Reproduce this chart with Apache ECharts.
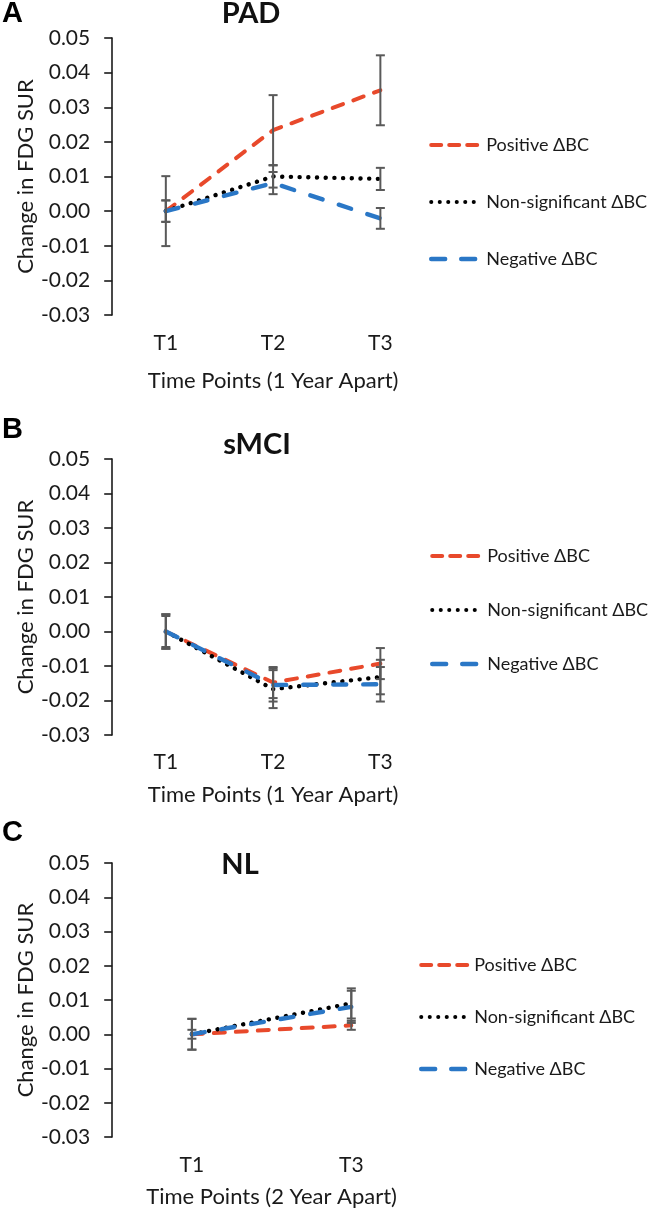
<!DOCTYPE html>
<html><head><meta charset="utf-8">
<script src="https://cdn.jsdelivr.net/npm/echarts@6/dist/echarts.min.js"></script>
<style>html,body{margin:0;padding:0;background:#fff}#c{width:656px;height:1213px}</style>
</head><body><div id="c"></div>
<script>
// ---- data ----
const seriesNames = ['Positive ΔBC', 'Non-significant ΔBC', 'Negative ΔBC'];
const yMin = -0.03, yMax = 0.05, yStep = 0.01;

const catsPAD = ['T1', 'T2', 'T3'];
const padPositive = [0, 0.0234, 0.0349];
const padPositiveErr = [0.0101, 0.0101, 0.0101];
const padNonSig = [0, 0.0100, 0.0093];
const padNonSigErr = [0.0031, 0.0032, 0.0032];
const padNegative = [0, 0.0081, -0.0021];
const padNegativeErr = [0.0031, 0.0032, 0.0030];

const catsSMCI = ['T1', 'T2', 'T3'];
const smciPositive = [0, -0.0148, -0.0093];
const smciPositiveErr = [0.0050, 0.0045, 0.0045];
const smciNonSig = [0, -0.0167, -0.0132];
const smciNonSigErr = [0.0045, 0.0055, 0.0050];
const smciNegative = [0, -0.0155, -0.0153];
const smciNegativeErr = [0.0050, 0.0048, 0.0050];

const catsNL = ['T1', 'T3'];
const nlPositive = [0, 0.0026];
const nlPositiveErr = [0.0013, 0.0013];
const nlNonSig = [0, 0.0090];
const nlNonSigErr = [0.0045, 0.0044];
const nlNegative = [0, 0.0080];
const nlNegativeErr = [0.0045, 0.0047];

const panelTitles = ['PAD', 'sMCI', 'NL'];
const panelLetters = ['A', 'B', 'C'];
const xTitles = ['Time Points (1 Year Apart)', 'Time Points (1 Year Apart)', 'Time Points (2 Year Apart)'];
const yTitle = 'Change in FDG SUR';

// ---- layout / style ----
const FONT = 'Lato, "Open Sans", sans-serif';
const TXT = '#1a1a1a';
const panels = [
  {cats: catsPAD, vals: [padPositive, padNonSig, padNegative], errs: [padPositiveErr, padNonSigErr, padNegativeErr],
   grid: {left: 95, top: 38, width: 339, height: 277}, labelMargin: 17.5, nameGap: 55,
   legend: {left: 429, top: 135, gap: 37, w: 50}, title: [251, 14], letter: [2, 14]},
  {cats: catsSMCI, vals: [smciPositive, smciNonSig, smciNegative], errs: [smciPositiveErr, smciNonSigErr, smciNegativeErr],
   grid: {left: 95, top: 459, width: 339, height: 276}, labelMargin: 16.5, nameGap: 49,
   legend: {left: 430, top: 546, gap: 34, w: 50}, title: [257, 445], letter: [2, 430]},
  {cats: catsNL, vals: [nlPositive, nlNonSig, nlNegative], errs: [nlPositiveErr, nlNonSigErr, nlNegativeErr],
   grid: {left: 93, top: 863, width: 338, height: 274}, labelMargin: 17.5, nameGap: 49,
   legend: {left: 419, top: 955, gap: 32, w: 48}, title: [240, 865], letter: [2, 833]}
];

const lineStyles = [
  {color: '#E8492B', width: 4, type: [11, 11], cap: 'round'},
  {color: '#000000', width: 4.4, type: [0.1, 8.6], cap: 'round'},
  {color: '#2A77C6', width: 4.4, type: [13, 17], cap: 'round'}
];
const legendLineStyles = [
  {color: '#E8492B', width: 4, type: [10, 8], cap: 'round'},
  {color: '#000000', width: 4, type: [0.1, 8.4], cap: 'round'},
  {color: '#2A77C6', width: 4.4, type: [14, 16], cap: 'round'}
];

function fmt(v) { return Math.abs(v) < 1e-9 ? '0.00' : v.toFixed(2); }

const grids = [], xAxes = [], yAxes = [], series = [], legends = [], graphics = [];
panels.forEach((p, k) => {
  grids.push(Object.assign({containLabel: false}, p.grid));
  xAxes.push({
    type: 'category', gridIndex: k, data: p.cats, boundaryGap: true,
    axisLine: {show: false, onZero: false}, axisTick: {show: false},
    axisLabel: {fontFamily: FONT, fontSize: 21, color: TXT, margin: p.labelMargin, lineHeight: 21},
    name: xTitles[k], nameLocation: 'middle', nameGap: p.nameGap,
    nameTextStyle: {fontFamily: FONT, fontSize: 22, color: TXT, lineHeight: 22}
  });
  yAxes.push({
    type: 'value', gridIndex: k, min: yMin, max: yMax, interval: yStep,
    axisLine: {show: true, onZero: false, lineStyle: {color: TXT, width: 1.6}},
    axisTick: {show: true, length: 8, lineStyle: {color: TXT, width: 1.6}},
    splitLine: {show: false},
    axisLabel: {formatter: fmt, fontFamily: FONT, fontSize: 21, color: TXT, margin: 22},
    name: yTitle, nameLocation: 'middle', nameGap: 72, nameRotate: 90,
    nameTextStyle: {fontFamily: FONT, fontSize: 22, color: TXT, lineHeight: 22}
  });
  p.vals.forEach((vals, s) => {
    series.push({
      type: 'line', name: seriesNames[s], xAxisIndex: k, yAxisIndex: k, data: vals,
      symbol: 'none', showSymbol: false, smooth: false, z: 2 + s,
      lineStyle: lineStyles[s], itemStyle: {color: lineStyles[s].color}, silent: true
    });
  });
  p.vals.forEach((vals, s) => {
    const errs = p.errs[s];
    series.push({
      type: 'custom', xAxisIndex: k, yAxisIndex: k, z: 6, silent: true,
      encode: {x: 0, y: [1, 2]},
      data: vals.map((v, i) => [i, v - errs[i], v + errs[i]]),
      renderItem: (params, api) => {
        const lo = api.coord([api.value(0), api.value(1)]);
        const hi = api.coord([api.value(0), api.value(2)]);
        const hw = 4.5;
        const st = {stroke: '#595959', lineWidth: 2, fill: null};
        return {type: 'group', children: [
          {type: 'line', shape: {x1: lo[0], y1: lo[1], x2: hi[0], y2: hi[1]}, style: st},
          {type: 'line', shape: {x1: lo[0] - hw, y1: lo[1], x2: lo[0] + hw, y2: lo[1]}, style: st},
          {type: 'line', shape: {x1: hi[0] - hw, y1: hi[1], x2: hi[0] + hw, y2: hi[1]}, style: st}
        ]};
      }
    });
  });
  legends.push({
    data: seriesNames.map((n, s) => ({name: n, lineStyle: legendLineStyles[s],
      itemStyle: {opacity: 0, color: 'transparent', borderWidth: 0}})),
    orient: 'vertical', left: p.legend.left, top: p.legend.top,
    itemWidth: p.legend.w, itemHeight: 20, itemGap: p.legend.gap, padding: 0,
    selectedMode: false,
    itemStyle: {opacity: 0, color: 'transparent', borderWidth: 0},
    textStyle: {fontFamily: FONT, fontSize: 18, lineHeight: 20, color: TXT}
  });
  graphics.push({type: 'text', x: p.title[0], y: p.title[1],
    style: {text: panelTitles[k], fontFamily: FONT, fontWeight: 'bold', fontSize: 29, fill: '#111',
      textAlign: 'center', textVerticalAlign: 'middle'}});
  graphics.push({type: 'text', x: p.letter[0], y: p.letter[1],
    style: {text: panelLetters[k], fontFamily: '"Liberation Sans", Arial, sans-serif', fontWeight: 'bold', fontSize: 29, fill: '#000',
      textAlign: 'left', textVerticalAlign: 'middle'}});
});

const chart = echarts.init(document.getElementById('c'), null, {renderer: 'canvas'});
chart.setOption({
  animation: false, backgroundColor: '#ffffff',
  grid: grids, xAxis: xAxes, yAxis: yAxes, series: series, legend: legends, graphic: graphics
});
</script></body></html>
